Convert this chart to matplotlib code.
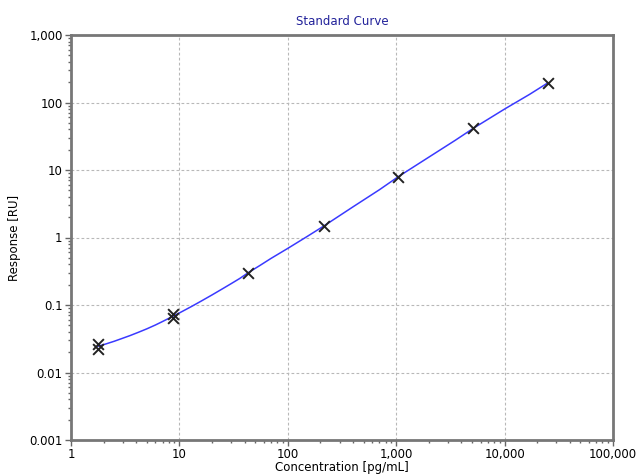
import numpy as np
import matplotlib.pyplot as plt
from matplotlib.ticker import FixedLocator, FixedFormatter, LogLocator, NullFormatter

# standards (two replicates at the low end)
conc = [1.78, 1.78, 8.7, 8.7, 43, 215, 1050, 5150, 25000]
resp = [0.0262, 0.0225, 0.074, 0.065, 0.30, 1.48, 8.0, 41.5, 195]

# fitted curve
curve_x = [1.78, 2.1, 2.5, 3.0, 3.5, 4.2, 5, 6, 7, 8.7, 10.5, 13, 16, 20, 25, 30,
           36, 43, 55, 70, 100, 150, 215, 400, 700, 1050, 2000, 3500, 5150,
           10000, 17000, 25000]
curve_y = [0.0245, 0.0265, 0.029, 0.0322, 0.0352, 0.0395, 0.0443, 0.0505, 0.057,
           0.068, 0.0795, 0.0955, 0.115, 0.141, 0.174, 0.207, 0.247, 0.30, 0.383,
           0.49, 0.69, 1.03, 1.48, 2.85, 5.1, 8.0, 15.5, 27.5, 41.5, 80, 132, 195]

xticks = [1, 10, 100, 1000, 10000, 100000]
xlabels = ['1', '10', '100', '1,000', '10,000', '100,000']
yticks = [0.001, 0.01, 0.1, 1, 10, 100, 1000]
ylabels = ['0.001', '0.01', '0.1', '1', '10', '100', '1,000']

fig = plt.figure(figsize=(6.37, 4.75), dpi=100)
ax = fig.add_axes([71/637, 1 - 440/475, 542/637, 405/475])

ax.plot(curve_x, curve_y, color='#3a3aff', lw=1.1, zorder=2)
ax.scatter(conc, resp, marker='x', s=60, color='#222222', linewidths=1.4, zorder=3)

ax.set_xscale('log')
ax.set_yscale('log')
ax.set_xlim(1, 100000)
ax.set_ylim(0.001, 1000)

ax.xaxis.set_major_locator(FixedLocator(xticks))
ax.xaxis.set_major_formatter(FixedFormatter(xlabels))
ax.yaxis.set_major_locator(FixedLocator(yticks))
ax.yaxis.set_major_formatter(FixedFormatter(ylabels))
ax.xaxis.set_minor_locator(LogLocator(base=10, subs=np.arange(2, 10)))
ax.yaxis.set_minor_locator(LogLocator(base=10, subs=np.arange(2, 10)))
ax.xaxis.set_minor_formatter(NullFormatter())
ax.yaxis.set_minor_formatter(NullFormatter())

ax.tick_params(which='major', length=4, width=1, color='#666666', labelsize=8.5, pad=2)
ax.tick_params(which='minor', length=2.5, width=1, color='#666666')

ax.grid(True, which='major', color='#b8b8b8', linestyle=(0, (2.5, 2)), linewidth=0.8)
ax.set_axisbelow(True)

for side in ['left', 'right', 'top', 'bottom']:
    ax.spines[side].set_color('#777777')
    ax.spines[side].set_linewidth(2)

ax.set_title('Standard Curve', color='#22229a', fontsize=8.5, pad=7)
ax.set_xlabel('Concentration [pg/mL]', fontsize=8.5, labelpad=0)
ax.set_ylabel('Response [RU]', fontsize=8.5, labelpad=6)

plt.savefig('out.png', dpi=100)
